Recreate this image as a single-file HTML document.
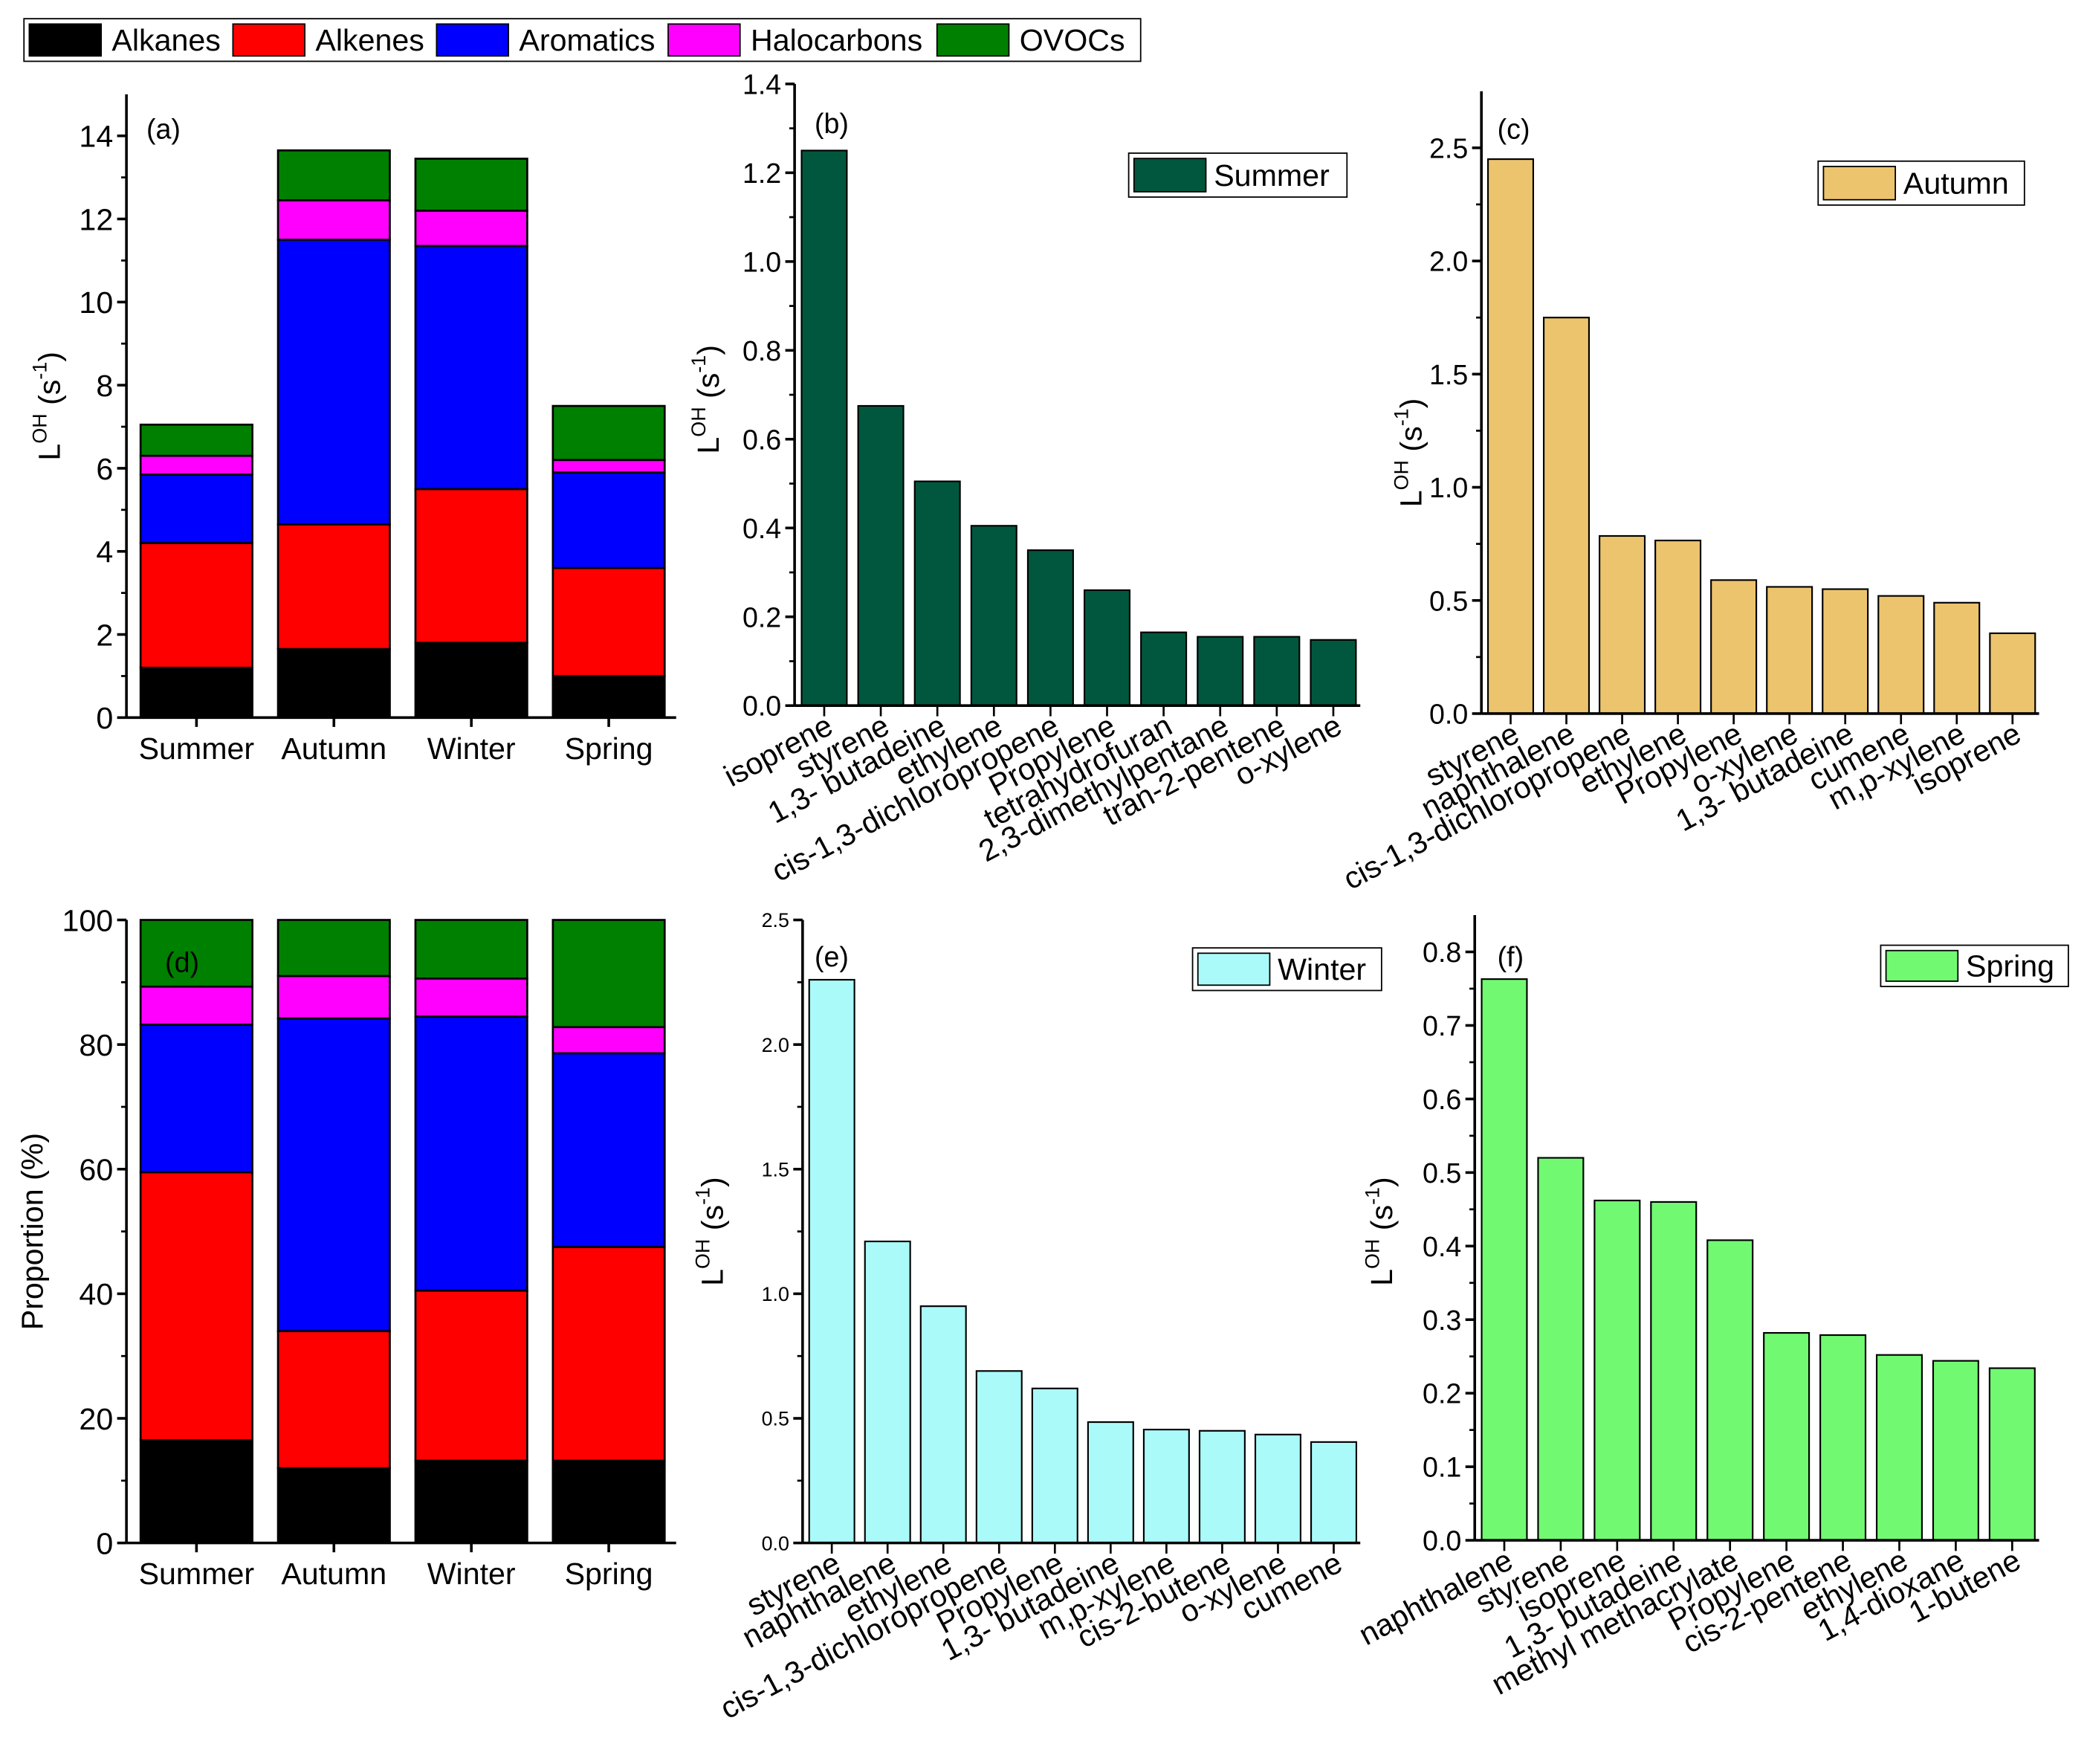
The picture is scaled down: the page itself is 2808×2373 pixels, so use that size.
<!DOCTYPE html>
<html><head><meta charset="utf-8">
<style>
html,body{margin:0;padding:0;background:#fff;}
svg{display:block;font-family:"Liberation Sans Narrow","Liberation Sans",sans-serif;}
</style></head>
<body>
<svg id="chart" xmlns="http://www.w3.org/2000/svg" width="2808" height="2373" viewBox="0 0 1568 1325">
<g id="root"></g>
</svg>
<script>
// ---- data ----
const seasons = ["Summer","Autumn","Winter","Spring"];
const groups = ["Alkanes","Alkenes","Aromatics","Halocarbons","OVOCs"];
const groupColors = ["#000000","#ff0000","#0000ff","#ff00ff","#008000"];
const absAlkanes = [1.2,1.65,1.8,1.0];
const absAlkenes = [3.0,3.0,3.7,2.6];
const absAromatics = [1.65,6.85,5.85,2.3];
const absHalocarbons = [0.45,0.95,0.85,0.3];
const absOVOCs = [0.75,1.2,1.25,1.3];
const pctAlkanes = [16.5,12.0,13.2,13.2];
const pctAlkenes = [43.0,22.0,27.3,34.3];
const pctAromatics = [23.7,50.2,44.0,31.1];
const pctHalocarbons = [6.1,6.8,6.1,4.2];
const pctOVOCs = [10.7,9.0,9.4,17.2];
const aTicks = [0,2,4,6,8,10,12,14];
const dTicks = [0,20,40,60,80,100];

const summerSpecies = ["isoprene","styrene","1,3- butadeine","ethylene","cis-1,3-dichloropropene","Propylene","tetrahydrofuran","2,3-dimethylpentane","tran-2-pentene","o-xylene"];
const summerValues = [1.25,0.675,0.505,0.405,0.35,0.26,0.165,0.155,0.155,0.148];
const summerTicks = [0.0,0.2,0.4,0.6,0.8,1.0,1.2,1.4];
const autumnSpecies = ["styrene","naphthalene","cis-1,3-dichloropropene","ethylene","Propylene","o-xylene","1,3- butadeine","cumene","m,p-xylene","isoprene"];
const autumnValues = [2.45,1.75,0.785,0.765,0.59,0.56,0.55,0.52,0.49,0.355];
const autumnTicks = [0.0,0.5,1.0,1.5,2.0,2.5];
const winterSpecies = ["styrene","naphthalene","ethylene","cis-1,3-dichloropropene","Propylene","1,3- butadeine","m,p-xylene","cis-2-butene","o-xylene","cumene"];
const winterValues = [2.26,1.21,0.95,0.69,0.62,0.485,0.455,0.45,0.435,0.405];
const winterTicks = [0.0,0.5,1.0,1.5,2.0,2.5];
const springSpecies = ["naphthalene","styrene","isoprene","1,3- butadeine","methyl methacrylate","Propylene","cis-2-pentene","ethylene","1,4-dioxane","1-butene"];
const springValues = [0.763,0.52,0.462,0.46,0.408,0.282,0.279,0.252,0.244,0.234];
const springTicks = [0.0,0.1,0.2,0.3,0.4,0.5,0.6,0.7,0.8];

const NS="http://www.w3.org/2000/svg";
const root=document.getElementById('root');
function el(tag,attrs,parent){const e=document.createElementNS(NS,tag);for(const k in attrs)e.setAttribute(k,attrs[k]);(parent||root).appendChild(e);return e;}

// legend
const lg=el('g',{});


el('rect',{x:18,y:14,width:839,height:32,fill:'#fff',stroke:'#000','stroke-width':1},lg);
const lgX=[22,175,328,502,704];
groups.forEach((g,i)=>{
  const it=el('g',{},lg);
  
  
  el('rect',{x:lgX[i],y:18,width:54,height:24,fill:groupColors[i],stroke:'#000','stroke-width':1},it);
  const t=el('text',{x:lgX[i]+62,y:38,'font-size':23,fill:'#000'},it);
  t.textContent=g;
});

function yLabel(g,x,y,proportion){
  const t=el('text',{transform:`translate(${x},${y}) rotate(-90)`,'text-anchor':'middle','font-size':23},g);
  
  
  if(proportion){t.textContent='Proportion (%)';return;}
  t.innerHTML='L<tspan dy="-10" font-size="15">OH</tspan><tspan dy="10"> (s</tspan><tspan dy="-10" font-size="15">-1</tspan><tspan dy="10">)</tspan>';
}

function axes(g,x0,x1,y0,yTop,ticks,ymap,fmt,fs,minor){
  el('line',{x1:x0,y1:yTop,x2:x0,y2:y0,stroke:'#000','stroke-width':2},g);
  el('line',{x1:x0,y1:y0,x2:x1,y2:y0,stroke:'#000','stroke-width':2},g);
  ticks.forEach((v,i)=>{
    const y=ymap(v);
    el('line',{x1:x0-7,y1:y,x2:x0,y2:y,stroke:'#000','stroke-width':2},g);
    const t=el('text',{x:x0-10,y:y+fs*0.36,'text-anchor':'end','font-size':fs},g);
    
    
    t.textContent=fmt(v);
    if(minor&&i<ticks.length-1){const ym=ymap((v+ticks[i+1])/2);el('line',{x1:x0-4,y1:ym,x2:x0,y2:ym,stroke:'#000','stroke-width':1.5},g);}
  });
}

function stacked(name,x0,x1,y0,ymax,yTopV,ticks,series,panelLabel,labelPos,proportion){
  const g=el('g',{});
  
  
  const yTop=y0-(y0-ymax.px)*(yTopV/ymax.v);
  const ymap=v=>y0-(y0-ymax.px)*(v/ymax.v);
  const bw=84, step=(x1-x0)/seasons.length;
  seasons.forEach((s,i)=>{
    const cx=x0+step*(i+0.5)+1;
    let cum=0;
    series.forEach((arr,j)=>{
      const yA=ymap(cum), yB=ymap(cum+arr[i]);
      const r=el('rect',{x:cx-bw/2,y:yB,width:bw,height:yA-yB,fill:groupColors[j],stroke:'#000','stroke-width':1.5},g);
      
      
      cum+=arr[i];
    });
    el('line',{x1:cx,y1:y0,x2:cx,y2:y0+7,stroke:'#000','stroke-width':2},g);
    const t=el('text',{x:cx,y:y0+31,'text-anchor':'middle','font-size':23},g);
    
    
    t.textContent=s;
  });
  axes(g,x0,x1,y0,yTop,ticks,ymap,v=>String(v),23,true);
  const pl=el('text',{x:labelPos[0],y:labelPos[1],'font-size':21},g);
  
  
  pl.textContent=panelLabel;
  return g;
}

stacked('panel-a-stacked',95,508,539,{px:102,v:14},15,aTicks,[absAlkanes,absAlkenes,absAromatics,absHalocarbons,absOVOCs],'(a)',[110,104]);
yLabel(root,45,305,false);
stacked('panel-d-proportion',95,508,1159,{px:691,v:100},100,dTicks,[pctAlkanes,pctAlkenes,pctAromatics,pctHalocarbons,pctOVOCs],'(d)',[124,730]);
yLabel(root,32,925,true);

function species(name,x0,x1,y0,ymax,yTopV,ticks,decimals,fs,cats,vals,color,season,legendBox,panelLabel,labelPos,ylx,yly){
  const g=el('g',{});
  
  
  const ymap=v=>y0-(y0-ymax.px)*(v/ymax.v);
  const step=(x1-x0)/cats.length, bw=34;
  cats.forEach((c,i)=>{
    const cx=x0+step*(i+0.5)+1;
    const yv=ymap(vals[i]);
    const r=el('rect',{x:cx-bw/2,y:yv,width:bw,height:y0-yv,fill:color,stroke:'#000','stroke-width':1.2},g);
    
    
    el('line',{x1:cx,y1:y0,x2:cx,y2:y0+8,stroke:'#000','stroke-width':1.5},g);
    const t=el('text',{transform:`translate(${cx+8},${y0+20}) rotate(-28)`,'text-anchor':'end','font-size':23},g);
    
    
    t.textContent=c;
  });
  axes(g,x0,x1,y0,ymap(yTopV),ticks,ymap,v=>v.toFixed(decimals),fs,true);
  const lb=el('g',{},g);
  
  
  const [lx,ly,lw,lh]=legendBox;
  el('rect',{x:lx,y:ly,width:lw,height:lh,fill:'#fff',stroke:'#000','stroke-width':1},lb);
  el('rect',{x:lx+4,y:ly+4,width:54,height:lh-8,fill:color,stroke:'#000','stroke-width':1},lb);
  const lt=el('text',{x:lx+64,y:ly+lh/2+8,'font-size':23},lb);
  lt.textContent=season;
  const pl=el('text',{x:labelPos[0],y:labelPos[1],'font-size':21},g);
  
  
  pl.textContent=panelLabel;
  yLabel(g,ylx,yly,false);
}

species('panel-b-summer',597,1022,530,{px:63,v:1.4},1.4,summerTicks,1,21,summerSpecies,summerValues,'#01573e','Summer',[848,115,164,33],'(b)',[612,100],540,300);
species('panel-c-autumn',1113,1532,536,{px:111,v:2.5},2.75,autumnTicks,1,21,autumnSpecies,autumnValues,'#ecc46d','Autumn',[1366,121,155,33],'(c)',[1125,104],1068,340);
species('panel-e-winter',603,1022,1159,{px:691,v:2.5},2.5,winterTicks,1,15,winterSpecies,winterValues,'#aafafa','Winter',[896,712,142,32],'(e)',[612,726],543,925);
species('panel-f-spring',1108,1532,1157,{px:715,v:0.8},0.85,springTicks,1,21,springSpecies,springValues,'#72f972','Spring',[1413,710,141,31],'(f)',[1125,726],1046,925);
</script>
</body></html>
